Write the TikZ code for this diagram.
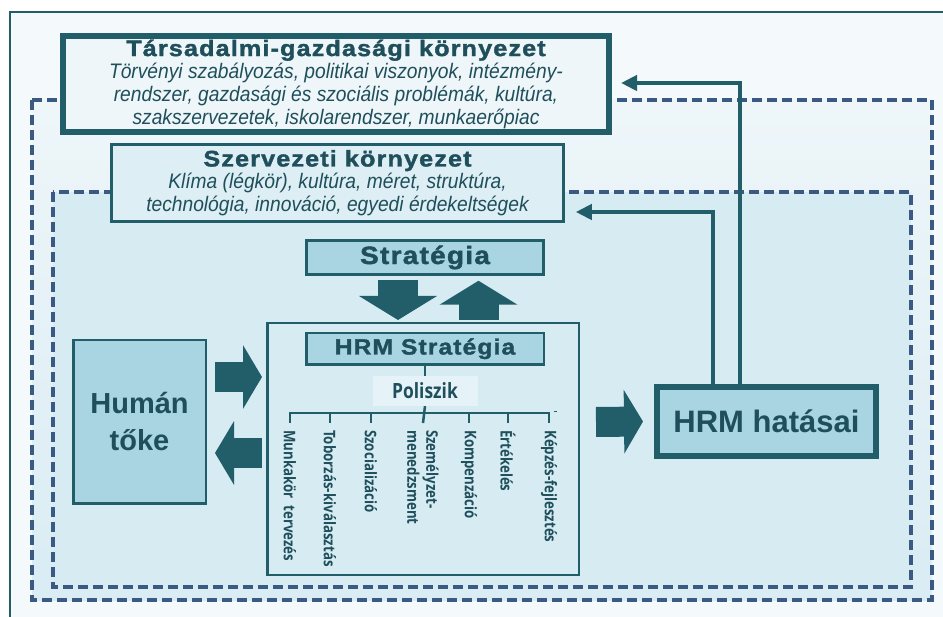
\documentclass[tikz,border=0pt]{standalone}
\usepackage{fontspec}
\setmainfont{Liberation Sans}
\newfontfamily\heavyfont{Liberation Sans}[FakeStretch=1.12, LetterSpace=5, FakeBold=1.6]
\newfontfamily\narrowfont{Liberation Sans}[FakeStretch=0.915]
\newfontfamily\polfont{Open Sans}[FakeStretch=0.83]
\usepackage{xcolor}
\usetikzlibrary{arrows.meta, positioning}

\definecolor{hrmteal}{HTML}{215E6A}
\definecolor{hrmtext}{HTML}{1E4F5B}
\definecolor{boxblue}{HTML}{A9D4E1}
\definecolor{innerblue}{HTML}{D7EBF3}
\definecolor{paleblue}{HTML}{EEF6F9}
\definecolor{paperblue}{HTML}{F4F9FB}
\definecolor{dashnavy}{HTML}{3A5A84}

\newcommand{\boxtitle}[2]{{\heavyfont\upshape\bfseries\fontsize{#1}{26}\selectfont #2}}

\begin{document}
\begin{tikzpicture}[x=1pt, y=-1pt,
    dashframe/.style={draw=dashnavy, line width=3.6pt, dash pattern=on 10pt off 5pt},
    envbox/.style={draw=hrmteal, align=center, inner sep=0pt, text=hrmtext,
      font=\narrowfont\itshape\fontsize{21}{23}\selectfont},
    stratbox/.style={draw=hrmteal, line width=2.5pt, fill=boxblue, text=hrmtext,
      inner sep=0pt, font=\heavyfont\bfseries\fontsize{22}{26}\selectfont},
    bigbox/.style={draw=hrmteal, fill=boxblue, text=hrmtext, inner sep=0pt,
      align=center, font=\bfseries},
    sidearrow/.style={hrmteal, line width=30pt, -{Triangle[length=19pt, width=63pt]}},
    stratarrow/.style={hrmteal, line width=40pt, -{Triangle[length=24pt, width=77pt]}},
    feedback/.style={hrmteal, line width=4.5pt, -{Triangle[length=16pt, width=15pt]}},
    polline/.style={hrmteal, line width=2.5pt},
    pollabel/.style={rotate=-90, anchor=west, inner sep=0pt, text=hrmtext, align=left,
      font=\polfont\bfseries\fontsize{16}{19}\selectfont}]

  \clip (0,0) rectangle (943,617);
  \fill[white] (0,0) rectangle (943,617);
  \draw[hrmteal, line width=2.5pt, fill=paperblue] (10,12) rectangle (960,640);

  % nested environments
  \draw[dashframe, top color=paleblue, bottom color=innerblue!90!paleblue] (32,100) rectangle (932,600);
  \draw[dashframe, fill=innerblue] (53,192) rectangle (911,587);

  \node[envbox, line width=6pt, fill=paleblue, minimum width=546, minimum height=96] (tarsadalmi) at (336,84)
    {\boxtitle{22.5}{Társadalmi-gazdasági környezet}\\[-1pt]
     Törvényi szabályozás, politikai viszonyok, intézmény-\\
     rendszer, gazdasági és szociális problémák, kultúra,\\
     szakszervezetek, iskolarendszer, munkaerőpiac};
  \node[envbox, line width=2.5pt, fill=innerblue!70!paleblue, minimum width=452, minimum height=77] (szervezeti) at (337.5,183)
    {\boxtitle{22.5}{Szervezeti környezet}\\[-1pt]
     Klíma (légkör), kultúra, méret, struktúra,\\
     technológia, innováció, egyedi érdekeltségek};

  % HRM core
  \node[stratbox, minimum width=237, minimum height=34, font=\heavyfont\bfseries\fontsize{25}{26}\selectfont] (strategia) at (425,257.5) {Stratégia};
  \node[draw=hrmteal, line width=2.5pt, fill=innerblue, minimum width=311.5, minimum height=251.5] (hrm) at (423,449) {};
  \node[stratbox, minimum width=237.5, minimum height=31.5, below=56pt of strategia] (hrmstrat) {HRM Stratégia};
  \node[fill=innerblue!40!paleblue, text=hrmtext, inner sep=0pt, minimum width=105, minimum height=30,
    font=\polfont\bfseries\fontsize{21}{22}\selectfont, below=10pt of hrmstrat] (poliszik) {Poliszik};

  \foreach \i/\x/\t in {1/290/Munkakör\ \ tervezés, 2/330/Toborzás-kiválasztás, 3/371/Szocializáció,
      4/423/{Személyzet-\\menedzsment}, 5/469/Kompenzáció, 6/508/Értékelés, 7/549/Képzés-fejlesztés}
    \node[pollabel] (pol\i) at (\x,430) {\t};

  \draw[polline] (hrmstrat.south) -- (poliszik.north);
  \draw[polline] (poliszik.south) -- ([yshift=7pt]pol4.west);
  \draw[polline] ([yshift=7pt]pol1.west) -- ([yshift=17pt]pol1.west) -- ([yshift=17pt]pol7.west) -- ([yshift=7pt]pol7.west);
  \foreach \i in {2,3,5,6}
    \draw[polline] ([yshift=7pt]pol\i.west) -- ([yshift=17pt]pol\i.west);
  \draw[hrmteal, line width=1pt] ([xshift=5pt,yshift=18pt]pol7.west) -- ++(3,0);

  \node[bigbox, line width=2.5pt, minimum width=132.5, minimum height=163.5,
    font=\bfseries\fontsize{29}{37}\selectfont] (human) at (139.5,422) {Humán\\tőke};
  \node[bigbox, line width=6pt, minimum width=219, minimum height=69,
    font=\bfseries\fontsize{31}{36}\selectfont] (hatasai) at (766.5,421.5) {HRM hatásai};

  % block arrows
  \draw[stratarrow] ([xshift=-27pt,yshift=-4pt]strategia.south) -- ([xshift=-25pt,yshift=2pt]hrm.north);
  \draw[stratarrow] ([xshift=55.5pt,yshift=2pt]hrm.north) -- ([xshift=53.5pt,yshift=-5pt]strategia.south);
  \draw[sidearrow] ([xshift=8pt,yshift=45pt]human.east) -- ([xshift=-4pt,yshift=72pt]hrm.west);
  \draw[sidearrow] ([xshift=-4pt,yshift=-4pt]hrm.west) -- ([xshift=8pt,yshift=-31pt]human.east);
  \draw[sidearrow] ([xshift=16pt,yshift=27pt]hrm.east) -- ([xshift=-11pt]hatasai.west);

  % feedback to the environments
  \draw[feedback] ([xshift=-53.5pt]hatasai.north) |- ([xshift=11pt,yshift=-29pt]szervezeti.east);
  \draw[feedback] ([xshift=-26.5pt]hatasai.north) |- ([xshift=9pt,yshift=1pt]tarsadalmi.east);
\end{tikzpicture}
\end{document}
